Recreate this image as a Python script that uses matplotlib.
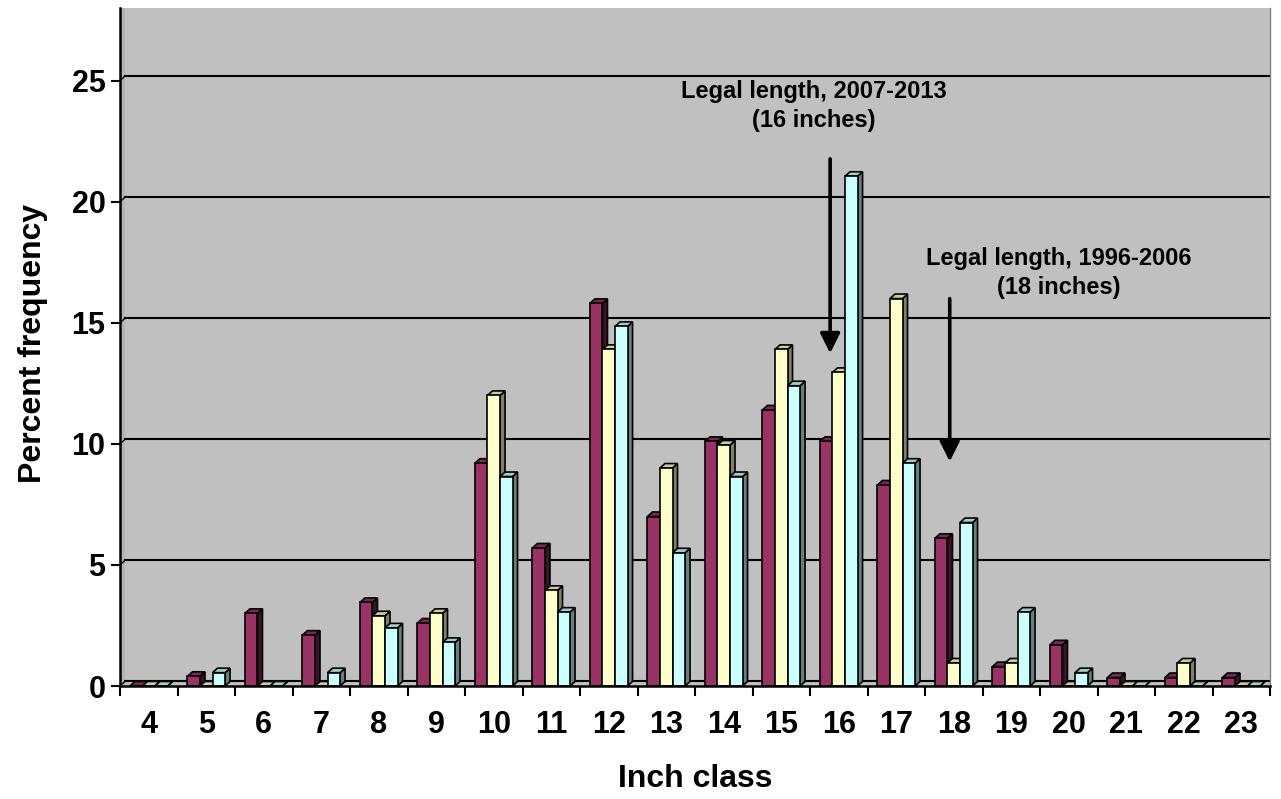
import matplotlib
matplotlib.use("Agg")
import matplotlib.pyplot as plt
from matplotlib.patches import Polygon
import numpy as np

plt.rcParams["font.family"] = ["Liberation Sans", "DejaVu Sans"]
plt.rcParams["font.weight"] = "bold"

inch_class = list(range(4, 24))
series_1 = [0, 0.4, 3.0, 2.1, 3.45, 2.6, 9.2, 5.7, 15.8, 7.0,
            10.1, 11.4, 10.1, 8.3, 6.1, 0.8, 1.7, 0.35, 0.35, 0.35]
series_2 = [0, 0, 0, 0, 2.9, 3.0, 12.0, 3.95, 13.9, 9.0,
            9.95, 13.9, 12.95, 16.0, 0.95, 0.95, 0, 0, 0.95, 0]
series_3 = [0, 0.55, 0, 0.55, 2.4, 1.8, 8.65, 3.05, 14.85, 5.5,
            8.65, 12.4, 21.05, 9.2, 6.75, 3.05, 0.55, 0, 0, 0]

# front / top / side shades for each series
faces = [
    ("#993366", "#7a2952", "#3d1426"),
    ("#ffffcc", "#cccca3", "#808066"),
    ("#ccffff", "#a3cccc", "#668080"),
]

fig = plt.figure(figsize=(12.81, 7.99), dpi=100)
ax = fig.add_axes([120 / 1281, 113 / 799, 1150 / 1281, 678 / 799])
ax.set_facecolor("#c0c0c0")

xmin, xmax = -0.5, len(inch_class) - 0.5
ymin, ymax = 0, 28
ax.set_xlim(xmin, xmax)
ax.set_ylim(ymin, ymax)

# depth of the 3D effect in data units (about 5 px across, 4.5 px up)
dx = 5 / 57.5
dy = 4.5 / 24.16

# side wall on the left and gridlines on the back wall
ax.add_patch(Polygon([(xmin, 0), (xmin + dx, dy), (xmin + dx, ymax), (xmin, ymax)],
                     closed=True, facecolor="#b4b4b4", edgecolor="none", zorder=0.5))
for g in range(0, 30, 5):
    ax.plot([xmin + dx, xmax], [g + dy, g + dy], color="black", lw=1.5, zorder=1)
    ax.plot([xmin, xmin + dx], [g, g + dy], color="black", lw=1.0, zorder=1)

w = 0.218
x = np.arange(len(inch_class))
all_series = [series_1, series_2, series_3]

for i in range(len(inch_class)):
    for k, values in enumerate(all_series):
        h = values[i]
        x0 = x[i] + (k - 1) * w - w / 2
        x1 = x0 + w
        front, top, side = faces[k]
        z = 2 + i * 3 + k
        ax.add_patch(Polygon([(x1, 0), (x1 + dx, dy), (x1 + dx, h + dy), (x1, h)],
                             closed=True, facecolor=side, edgecolor="black",
                             lw=1.2, zorder=z))
        ax.add_patch(Polygon([(x0, h), (x0 + dx, h + dy), (x1 + dx, h + dy), (x1, h)],
                             closed=True, facecolor=top, edgecolor="black",
                             lw=1.2, zorder=z))
        ax.bar(x0, h, width=w, align="edge", color=front, edgecolor="black",
               linewidth=1.2, zorder=z + 0.5)

# arrows and notes for the legal length limits
arrow_props = dict(arrowstyle="-|>,head_width=0.3,head_length=0.6",
                   color="black", lw=2.6, shrinkA=0, shrinkB=0, mutation_scale=20)
ax.annotate("", xy=(11.85, 13.74), xytext=(11.85, 21.77),
            arrowprops=arrow_props, zorder=200)
ax.annotate("", xy=(13.93, 9.27), xytext=(13.93, 16.0),
            arrowprops=arrow_props, zorder=200)
ax.text(11.56, 23.95, "Legal length, 2007-2013\n(16 inches)", ha="center", va="center",
        fontsize=17, fontweight="bold", linespacing=1.3, zorder=200)
ax.text(15.83, 17.05, "Legal length, 1996-2006\n(18 inches)", ha="center", va="center",
        fontsize=17, fontweight="bold", linespacing=1.3, zorder=200)

# axes styling
ax.spines["top"].set_visible(False)
ax.spines["right"].set_color("#808080")
ax.spines["right"].set_linewidth(1.0)
ax.spines["left"].set_linewidth(1.8)
ax.spines["bottom"].set_linewidth(1.8)
ax.spines["left"].set_zorder(300)
ax.spines["bottom"].set_zorder(300)

ax.set_yticks(range(0, 30, 5))
ax.tick_params(axis="y", direction="out", length=6.5, width=1.5, pad=4, labelsize=22)
ax.set_xticks(x)
ax.set_xticklabels([str(c) for c in inch_class])
ax.tick_params(axis="x", which="major", length=0, pad=17, labelsize=22)
ax.set_xticks(np.arange(xmin, xmax + 0.01, 1.0), minor=True)
ax.tick_params(axis="x", which="minor", direction="out", length=7.5, width=1.5)
for lab in ax.get_xticklabels() + ax.get_yticklabels():
    lab.set_fontweight("bold")

fig.text(695 / 1281, 1 - 779 / 799, "Inch class", ha="center", va="center",
         fontsize=23, fontweight="bold")
fig.text(33 / 1281, 1 - 343 / 799, "Percent frequency", ha="center", va="center",
         rotation=90, fontsize=23, fontweight="bold")

fig.savefig("out.png", dpi=100, facecolor="white")
